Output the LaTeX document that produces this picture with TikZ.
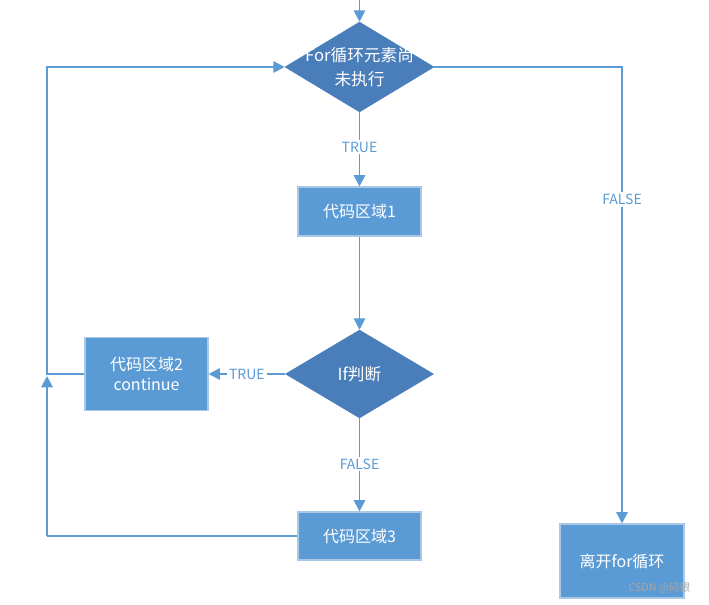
\documentclass[tikz,border=0pt]{standalone}
\usepackage{fontspec}
\setmainfont{Carlito}
\newfontfamily\cjk{Noto Sans CJK SC}
\usetikzlibrary{shapes.geometric,arrows.meta,calc}
\definecolor{ln}{HTML}{5B9BD5}
\definecolor{boxfill}{HTML}{5B9BD5}
\definecolor{boxedge}{HTML}{A9C8E8}
\definecolor{dmfill}{HTML}{4A7EBB}
\begin{document}
\begin{tikzpicture}[x=0.75pt,y=-0.75pt,
  conn/.style={draw=ln,line width=1.4pt},
  arr/.style={conn,-{Triangle[length=8.5pt,width=8.5pt]}},
  procbox/.style={rectangle,fill=boxfill,draw=boxedge,line width=0.8pt,text=white,align=center,font=\cjk\fontsize{12}{15}\selectfont},
  decide/.style={diamond,fill=dmfill,draw=dmfill,text=white,align=center,font=\cjk\fontsize{12.5}{18}\selectfont,inner sep=0pt},
  lbl/.style={fill=white,text=ln,font=\cjk\fontsize{10.5}{12}\selectfont,inner sep=1.5pt}]
\useasboundingbox (0,0) rectangle (709,605);
% nodes
\coordinate (start) at (359.5,0);
\node[decide,minimum width=149*0.75pt,minimum height=90*0.75pt] (d1) at (359.5,67) {\makebox[0pt]{For循环元素尚}\\\makebox[0pt]{未执行}};
\node[procbox,minimum width=123*0.75pt,minimum height=49*0.75pt] (b1) at (359.5,211.5) {代码区域1};
\node[decide,minimum width=148*0.75pt,minimum height=88*0.75pt] (d2) at (359.5,374) {If判断};
\node[procbox,minimum width=123*0.75pt,minimum height=73*0.75pt] (b2) at (146.5,374) {代码区域2\\continue};
\node[procbox,minimum width=123*0.75pt,minimum height=48*0.75pt] (b3) at (359.5,536) {代码区域3};
\node[procbox,minimum width=124*0.75pt,minimum height=74*0.75pt] (b4) at (622,561) {离开for循环};
\coordinate (lt) at (47,67);
\coordinate (lm) at (47,374);
\coordinate (lb) at (47,536);
\coordinate (rt) at (622,67);
% connectors
\draw[arr] (start) -- (d1.north);
\draw[arr] (d1.south) -- node[lbl,pos=0.47]{TRUE} (b1.north);
\draw[arr] (b1.south) -- (d2.north);
\draw[arr] (d2.west) -- node[lbl,pos=0.5]{TRUE} (b2.east);
\draw[arr] (d2.south) -- node[lbl,pos=0.49]{FALSE} (b3.north);
\draw[arr] (b2.west) -- (lm) -- (lt) -- (d1.west);
\draw[conn] (b3.west) -- (lb);
\draw[arr] (lb) -- ($(lm)+(0,2)$);
\draw[arr] (d1.east) -- (rt) -- node[lbl,pos=0.29]{FALSE} (b4.north);
\node[text=gray!70,font=\cjk\fontsize{8}{9}\selectfont,anchor=east] (wm) at (695,588) {CSDN @码银};
\end{tikzpicture}
\end{document}
